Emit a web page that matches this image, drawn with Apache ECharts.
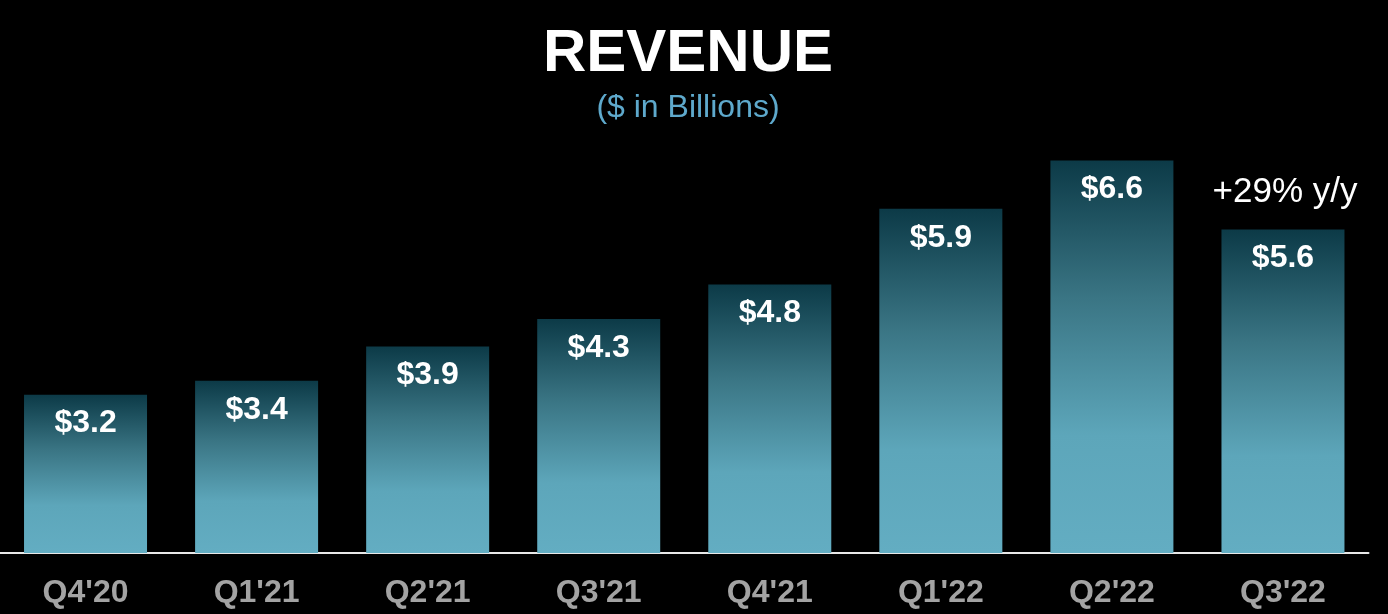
<!DOCTYPE html>
<html>
<head>
    <meta charset="utf-8">
    <title>revenue</title>
    <style>
        html, body { margin: 0; padding: 0; background: #000; }
    </style>
</head>
<body>
<!-- chart container -->
<div id="main" style="width: 1388px;height:614px;"></div>

<script src="https://cdn.jsdelivr.net/npm/echarts@6/dist/echarts.min.js"></script>

<script type="text/javascript">
// categories and values
var quarters = ["Q4'20", "Q1'21", "Q2'21", "Q3'21", "Q4'21", "Q1'22", "Q2'22", "Q3'22"];
var revenue = [3.2, 3.4, 3.9, 4.3, 4.8, 5.9, 6.6, 5.6];
var growthNote = '+29% y/y';

var myChart = echarts.init(document.getElementById('main'));

var font = '"Liberation Sans", Arial, sans-serif';

var option = {
    backgroundColor: '#000',
    animation: false,
    // title
    title: {
        text: 'REVENUE',
        subtext: '($ in Billions)',
        left: 683,
        textAlign: 'center',
        top: 19,
        itemGap: 8,
        textStyle: {
            color: '#fff',
            fontFamily: font,
            fontWeight: 'bold',
            fontSize: 60
        },
        subtextStyle: {
            color: '#5ea9cc',
            fontFamily: font,
            fontSize: 32
        }
    },
    grid: {
        left: -3.5,
        right: 19.5,
        top: 133,
        bottom: 61,
        containLabel: false
    },
    xAxis: {
        type: 'category',
        data: quarters,
        axisLine: { lineStyle: { color: '#e8e8e8', width: 2 } },
        axisTick: { show: false },
        axisLabel: {
            color: '#a3a3a3',
            fontFamily: font,
            fontWeight: 'bold',
            fontSize: 32,
            margin: 24
        }
    },
    yAxis: {
        type: 'value',
        min: 0.9,
        max: 7.0,
        show: false,
        splitLine: { show: false }
    },
    // growth note above last bar
    graphic: [{
        type: 'text',
        x: 1285,
        y: 192,
        style: {
            text: growthNote,
            fill: '#fff',
            font: '35px ' + font,
            align: 'center',
            verticalAlign: 'middle'
        }
    }],
    series: [{
        name: 'Revenue',
        type: 'bar',
        data: revenue,
        barWidth: 123,
        itemStyle: {
            color: new echarts.graphic.LinearGradient(0, 0, 0, 1, [
                { offset: 0, color: '#0c3a47' },
                { offset: 0.35, color: '#3a7584' },
                { offset: 0.7, color: '#5da6ba' },
                { offset: 1, color: '#63adc2' }
            ])
        },
        label: {
            show: true,
            position: 'insideTop',
            distance: 13,
            color: '#fff',
            fontFamily: font,
            fontWeight: 'bold',
            fontSize: 32,
            formatter: function (p) {
                return '$' + p.value.toFixed(1);
            }
        }
    }]
};

myChart.setOption(option);
</script>
</body>
</html>
